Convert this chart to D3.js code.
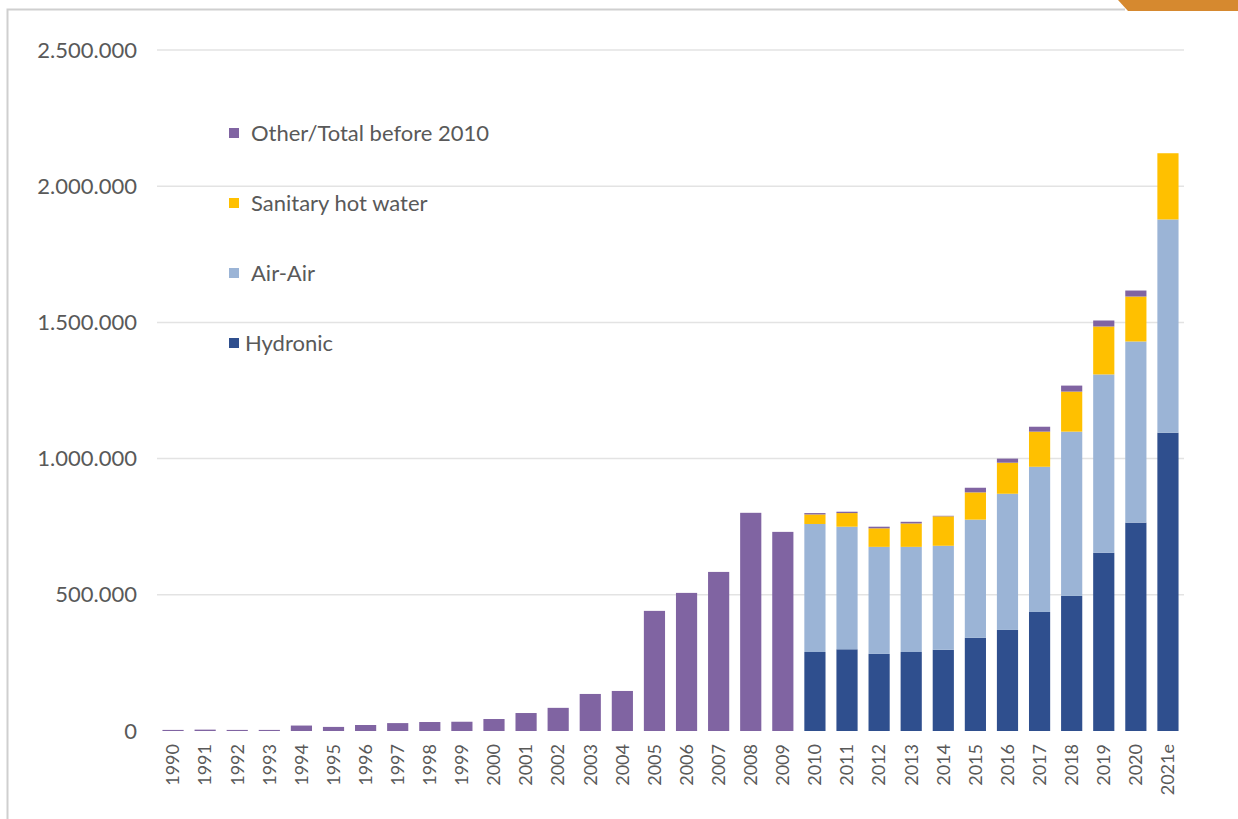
<!DOCTYPE html>
<html lang="en">
<head>
    <meta charset="UTF-8">
    <title>Heat pump sales</title>
    <script src="https://cdn.jsdelivr.net/npm/d3@7"></script>
    <style>
        body { margin: 0; background: #fff; }
        svg { display: block; font-family: Lato, "Open Sans", sans-serif; }
        .tick text { fill: #595959; font-family: Lato, "Open Sans", sans-serif; }
    </style>
</head>
<body>
    <svg width="1238" height="819"></svg>
    <script>
        // values, in units
        const years = ["1990","1991","1992","1993","1994","1995","1996","1997","1998","1999",
                       "2000","2001","2002","2003","2004","2005","2006","2007","2008","2009",
                       "2010","2011","2012","2013","2014","2015","2016","2017","2018","2019",
                       "2020","2021e"];
        const hydronic = [0,0,0,0,0,0,0,0,0,0, 0,0,0,0,0,0,0,0,0,0,
                          290000,300000,283000,290000,298000,342000,371000,437000,496000,654000,765000,1095000];
        const airAir   = [0,0,0,0,0,0,0,0,0,0, 0,0,0,0,0,0,0,0,0,0,
                          470000,450000,393000,386000,382000,434000,500000,533000,603000,655000,665000,783000];
        const hotWater = [0,0,0,0,0,0,0,0,0,0, 0,0,0,0,0,0,0,0,0,0,
                          35000,50000,68000,86000,108000,100000,114000,129000,147000,176000,165000,243000];
        const other    = [4000,5000,4000,4000,20000,15000,22000,29000,33000,34000,
                          44000,66000,85000,136000,147000,441000,507000,584000,801000,731000,
                          5000,5000,6000,6000,2000,17000,15000,18000,22000,22000,22000,0];
        const yTicks = [0, 500000, 1000000, 1500000, 2000000, 2500000];

        const series = [
            {key: "hydronic", label: "Hydronic", color: "#2F4F8E", values: hydronic},
            {key: "airAir", label: "Air-Air", color: "#9BB4D6", values: airAir},
            {key: "hotWater", label: "Sanitary hot water", color: "#FFC000", values: hotWater},
            {key: "other", label: "Other/Total before 2010", color: "#8064A2", values: other}
        ];

        const svg = d3.select("svg");

        // frame of the slide
        svg.append("path")
            .attr("d", "M7.5,819 L7.5,9.5 L1125,9.5")
            .attr("fill", "none")
            .attr("stroke", "#cfcfcf")
            .attr("stroke-width", 2);
        svg.append("path")
            .attr("d", "M1118,0 L1238,0 L1238,11 L1128,11 L1118,0 Z")
            .attr("fill", "#D6892F");

        const x = d3.scaleBand()
            .domain(years)
            .range([157, 1184])
            .paddingInner(0.34)
            .paddingOuter(0.17);

        const y = d3.scaleLinear()
            .domain([0, 2500000])
            .range([731, 50]);

        // gridlines
        svg.append("g")
            .selectAll("line")
            .data(yTicks.slice(1))
            .join("line")
            .attr("x1", 157)
            .attr("x2", 1184)
            .attr("y1", d => y(d))
            .attr("y2", d => y(d))
            .attr("stroke", "#e3e3e3")
            .attr("stroke-width", 1.5);

        // y axis labels
        const fmt = d => d3.format(",")(d).replace(/,/g, ".");
        const yAxis = svg.append("g")
            .attr("transform", "translate(152,0)")
            .call(d3.axisLeft(y).tickValues(yTicks).tickFormat(fmt).tickSize(0).tickPadding(15));
        yAxis.select(".domain").remove();
        yAxis.selectAll("text").style("font-size", "22px");

        // stacked bars
        const rows = years.map((yr, i) => {
            const r = {year: yr};
            series.forEach(s => r[s.key] = s.values[i]);
            return r;
        });
        const stack = d3.stack().keys(series.map(s => s.key))(rows);

        svg.append("g")
            .selectAll("g")
            .data(stack)
            .join("g")
            .attr("fill", (d, i) => series[i].color)
            .selectAll("rect")
            .data(d => d)
            .join("rect")
            .attr("x", d => x(d.data.year))
            .attr("width", x.bandwidth())
            .attr("y", d => y(d[1]))
            .attr("height", d => Math.max(0, y(d[0]) - y(d[1])));

        // x axis labels
        const xAxis = svg.append("g")
            .attr("transform", "translate(0,731)")
            .call(d3.axisBottom(x).tickSize(0).tickPadding(0));
        xAxis.select(".domain").remove();
        xAxis.selectAll("text")
            .style("font-size", "18px")
            .attr("text-anchor", "end")
            .attr("dy", "0.35em")
            .attr("transform", "translate(0,13) rotate(-90)");

        // legend
        const legendItems = series.slice().reverse();
        const legend = svg.append("g")
            .selectAll("g")
            .data(legendItems)
            .join("g")
            .attr("transform", (d, i) => `translate(229,${133 + i * 70})`);
        legend.append("rect")
            .attr("x", 0)
            .attr("y", -5)
            .attr("width", 10)
            .attr("height", 10)
            .attr("fill", d => d.color);
        legend.append("text")
            .attr("x", (d, i) => i === 3 ? 16 : 22)
            .attr("dy", "0.35em")
            .attr("fill", "#595959")
            .style("font-size", "22px")
            .text(d => d.label);
    </script>
</body>
</html>
